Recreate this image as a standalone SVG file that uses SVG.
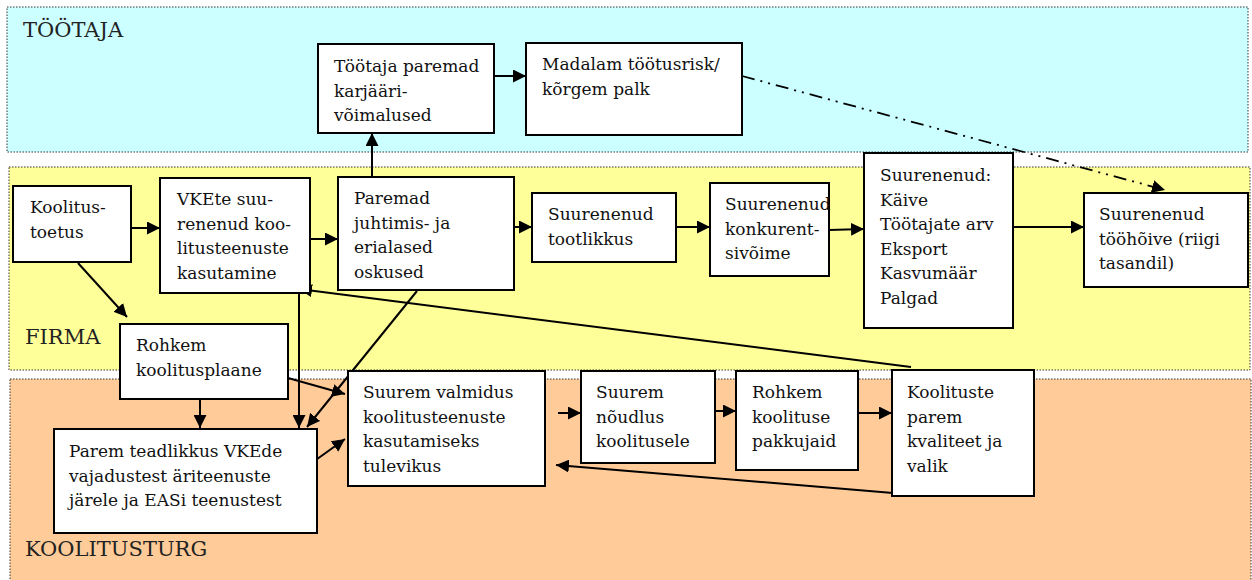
<svg xmlns="http://www.w3.org/2000/svg" width="1252" height="580" viewBox="0 0 1252 580">
<style>
.region{stroke:#333;stroke-width:1;stroke-dasharray:1.5 1.5}
.box{fill:#fff;stroke:#000;stroke-width:2}
text{font-family:'DejaVu Serif',serif;font-size:17px;fill:#111}
.rl{font-size:21px;fill:#222}
.c{fill:none;stroke:#000;stroke-width:2}
.dd{fill:none;stroke:#000;stroke-width:1.8;stroke-dasharray:13 6 2 6 2 6}
</style>
<defs>
<marker id="ah" markerUnits="userSpaceOnUse" markerWidth="13" markerHeight="13" refX="13" refY="6.5" orient="auto" viewBox="0 0 13 13">
<path d="M0,0 L13,6.5 L0,13 z" fill="#000"/>
</marker>
</defs>
<rect x="0" y="0" width="1252" height="580" fill="#fff"/>
<g id="regions">
<rect class="region" x="7" y="7" width="1241" height="145" fill="#CCFFFF"/>
<rect class="region" x="9" y="167" width="1241" height="203" fill="#FFFF99"/>
<rect class="region" x="10" y="379" width="1241" height="203" fill="#FFCC99"/>
<text class="rl" x="23" y="37">TÖÖTAJA</text>
<text class="rl" x="25" y="344">FIRMA</text>
<text class="rl" x="25" y="556">KOOLITUSTURG</text>
</g>
<g id="connectors">
<path class="c" d="M372,177 V133" marker-end="url(#ah)"/>
<path class="c" d="M494,76 H526" marker-end="url(#ah)"/>
<path class="dd" d="M742,76 L1165,190" marker-end="url(#ah)"/>
<path class="c" d="M131,228 H160" marker-end="url(#ah)"/>
<path class="c" d="M310,239 H338" marker-end="url(#ah)"/>
<path class="c" d="M514,227 H532" marker-end="url(#ah)"/>
<path class="c" d="M676,227 H710" marker-end="url(#ah)"/>
<path class="c" d="M829,230 L864,229" marker-end="url(#ah)"/>
<path class="c" d="M1013,227 H1084" marker-end="url(#ah)"/>
<path class="c" d="M78,263 L127,317" marker-end="url(#ah)"/>
<path class="c" d="M911,367 L299,289" marker-end="url(#ah)"/>
<path class="c" d="M299,293 V428" marker-end="url(#ah)"/>
<path class="c" d="M417,291 L307,427" marker-end="url(#ah)"/>
<path class="c" d="M200,399 V428" marker-end="url(#ah)"/>
<path class="c" d="M288,378 L345,394" marker-end="url(#ah)"/>
<path class="c" d="M313,462 L345,439" marker-end="url(#ah)"/>
<path class="c" d="M558,413 H581" marker-end="url(#ah)"/>
<path class="c" d="M715,411 H736" marker-end="url(#ah)"/>
<path class="c" d="M858,413 H892" marker-end="url(#ah)"/>
<path class="c" d="M893,493 L556,465" marker-end="url(#ah)"/>
</g>
<g id="n-tootaja-paremad">
<rect class="box" x="318" y="44" width="176" height="89"/>
<text x="334" y="72">Töötaja paremad</text>
<text x="334" y="96.5">karjääri-</text>
<text x="334" y="121">võimalused</text>
</g>
<g id="n-madalam">
<rect class="box" x="526" y="43" width="216" height="92"/>
<text x="542" y="70">Madalam töötusrisk/</text>
<text x="542" y="94.5">kõrgem palk</text>
</g>
<g id="n-koolitustoetus">
<rect class="box" x="13" y="186" width="118" height="76"/>
<text x="30" y="213">Koolitus-</text>
<text x="30" y="237.5">toetus</text>
</g>
<g id="n-vkete">
<rect class="box" x="160" y="178" width="150" height="115"/>
<text x="177" y="205">VKEte suu-</text>
<text x="177" y="229.5">renenud koo-</text>
<text x="177" y="254">litusteenuste</text>
<text x="177" y="278.5">kasutamine</text>
</g>
<g id="n-paremad-oskused">
<rect class="box" x="338" y="177" width="176" height="113"/>
<text x="354" y="204">Paremad</text>
<text x="354" y="228.5">juhtimis- ja</text>
<text x="354" y="253">erialased</text>
<text x="354" y="277.5">oskused</text>
</g>
<g id="n-tootlikkus">
<rect class="box" x="532" y="193" width="144" height="69"/>
<text x="548" y="220">Suurenenud</text>
<text x="548" y="244.5">tootlikkus</text>
</g>
<g id="n-konkurentsivoime">
<rect class="box" x="710" y="183" width="119" height="93"/>
<text x="725" y="210">Suurenenud</text>
<text x="725" y="234.5">konkurent-</text>
<text x="725" y="259">sivõime</text>
</g>
<g id="n-suurenenud">
<rect class="box" x="864" y="153" width="149" height="175"/>
<text x="880" y="181">Suurenenud:</text>
<text x="880" y="205.5">Käive</text>
<text x="880" y="230">Töötajate arv</text>
<text x="880" y="254.5">Eksport</text>
<text x="880" y="279">Kasvumäär</text>
<text x="880" y="303.5">Palgad</text>
</g>
<g id="n-toohoive">
<rect class="box" x="1084" y="193" width="164" height="94"/>
<text x="1099" y="220">Suurenenud</text>
<text x="1099" y="244.5">tööhõive (riigi</text>
<text x="1099" y="269">tasandil)</text>
</g>
<g id="n-koolitusplaane">
<rect class="box" x="120" y="324" width="168" height="75"/>
<text x="136" y="351">Rohkem</text>
<text x="136" y="375.5">koolitusplaane</text>
</g>
<g id="n-teadlikkus">
<rect class="box" x="54" y="429" width="263" height="104"/>
<text x="69" y="457">Parem teadlikkus VKEde</text>
<text x="69" y="481.5">vajadustest äriteenuste</text>
<text x="69" y="506">järele ja EASi teenustest</text>
</g>
<g id="n-valmidus">
<rect class="box" x="348" y="371" width="197" height="115"/>
<text x="363" y="398">Suurem valmidus</text>
<text x="363" y="422.5">koolitusteenuste</text>
<text x="363" y="447">kasutamiseks</text>
<text x="363" y="471.5">tulevikus</text>
</g>
<g id="n-noudlus">
<rect class="box" x="581" y="371" width="134" height="92"/>
<text x="596" y="398">Suurem</text>
<text x="596" y="422.5">nõudlus</text>
<text x="596" y="447">koolitusele</text>
</g>
<g id="n-pakkujaid">
<rect class="box" x="736" y="371" width="122" height="99"/>
<text x="752" y="398">Rohkem</text>
<text x="752" y="422.5">koolituse</text>
<text x="752" y="447">pakkujaid</text>
</g>
<g id="n-kvaliteet">
<rect class="box" x="892" y="370" width="142" height="126"/>
<text x="907" y="398">Koolituste</text>
<text x="907" y="422.5">parem</text>
<text x="907" y="447">kvaliteet ja</text>
<text x="907" y="471.5">valik</text>
</g>
</svg>
